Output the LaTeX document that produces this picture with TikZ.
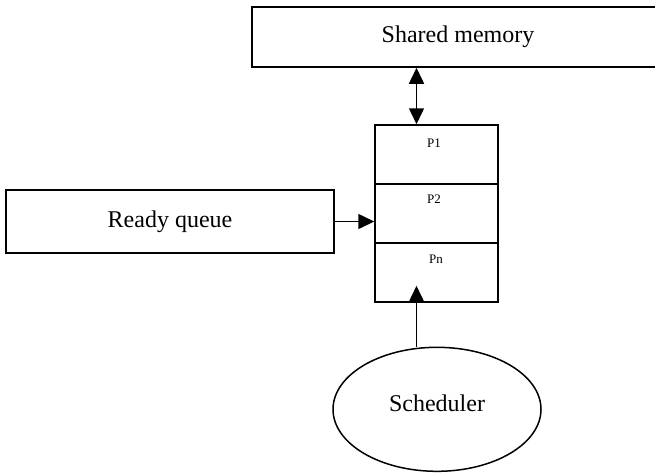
\documentclass[tikz,border=0pt]{standalone}
\usepackage{fontspec}
\setmainfont{Liberation Serif}
\usetikzlibrary{arrows.meta,shapes.geometric}
\tikzset{
  boxnode/.style={draw, rectangle, inner sep=0pt, font=\fontsize{24}{28}\selectfont},
  cellnode/.style={draw, rectangle, inner sep=0pt, minimum width=123pt, minimum height=59pt},
  plabel/.style={inner sep=0pt, font=\fontsize{13}{15}\selectfont},
  schnode/.style={draw, ellipse, inner sep=0pt, minimum width=208pt, minimum height=124pt,
    font=\fontsize{24}{28}\selectfont, text height=17pt, text depth=12pt},
}
\begin{document}
\begin{tikzpicture}[x=1pt,y=-1pt, line width=1.5pt, >={Triangle[width=15pt,length=16pt]}]
\useasboundingbox (0,0) rectangle (655,472);
\node[boxnode, minimum width=412pt, minimum height=60pt] (sm) at (458,37) {Shared memory};
\node[boxnode, minimum width=328pt, minimum height=63pt] (rq) at (170,221.5) {Ready queue};
\node[cellnode] (c1) at (436.5,154.5) {};
\node[cellnode] (c2) at (436.5,213.5) {};
\node[cellnode] (c3) at (436.5,272.5) {};
\node[plabel] (p1) at (434,143.5) {P1};
\node[plabel] (p2) at (434,199) {P2};
\node[plabel] (pn) at (436,259.5) {Pn};
\node[schnode] (sch) at (437,409.3) {Scheduler};
\coordinate (ax) at (416.5,0);
\draw[<->] (sm.south -| ax) -- (c1.north -| ax);
\draw[->] (rq.east) -- (rq.east -| c2.west);
\draw[->] (sch.north -| ax) -- ([yshift=17pt]c3.south -| ax);
\end{tikzpicture}
\end{document}
